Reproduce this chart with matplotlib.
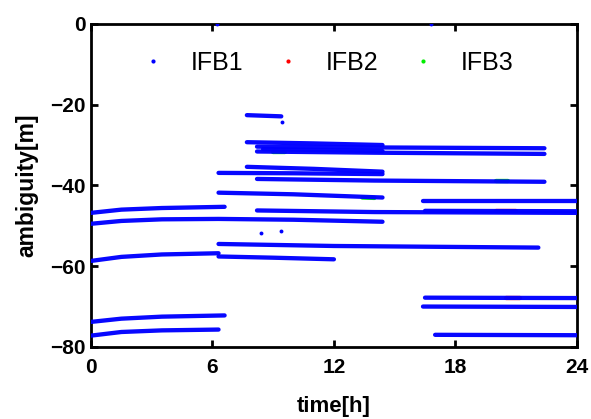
import matplotlib
matplotlib.use("Agg")
import matplotlib.pyplot as plt
from matplotlib.lines import Line2D

plt.rcParams['font.family'] = ['Liberation Sans', 'DejaVu Sans']

# IFB1 ambiguity arcs: each arc is a list of (time [h], ambiguity [m]) vertices
ifb1_arcs = [
    # first block, 0 h to ~6.6 h
    [(0.0, -46.8), (1.5, -46.0), (3.5, -45.6), (6.6, -45.3)],
    [(0.0, -49.5), (1.5, -48.8), (3.5, -48.4), (6.3, -48.3), (10.0, -48.5), (14.4, -49.0)],
    [(0.0, -58.7), (1.5, -57.7), (3.5, -57.1), (6.3, -56.8)],
    [(0.0, -73.8), (1.5, -73.0), (3.5, -72.5), (6.6, -72.2)],
    [(0.0, -77.2), (1.5, -76.3), (3.5, -75.9), (6.3, -75.7)],
    # arcs starting around 6.3 h
    [(6.3, -54.5), (12.0, -55.0), (22.1, -55.4)],
    [(6.3, -57.6), (9.0, -57.9), (12.0, -58.3)],
    [(6.3, -36.9), (10.0, -37.0), (14.4, -37.2)],
    [(6.3, -41.8), (10.0, -42.2), (14.4, -43.0)],
    # arcs starting around 7.7 - 8.5 h
    [(7.7, -22.6), (9.4, -22.9)],
    [(7.7, -29.3), (11.0, -29.6), (14.4, -30.0)],
    [(8.2, -30.4), (14.0, -30.6), (22.4, -30.8)],
    [(8.2, -31.6), (14.0, -31.9), (22.4, -32.2)],
    [(8.5, -31.0), (14.4, -31.5)],
    [(7.7, -35.4), (11.0, -35.9), (14.4, -36.6)],
    [(8.2, -38.4), (14.0, -38.8), (22.4, -39.1)],
    [(8.2, -46.2), (14.0, -46.6), (24.0, -46.8)],
    # arcs starting after 16 h
    [(16.4, -43.9), (24.0, -43.9)],
    [(16.5, -46.3), (24.0, -46.4)],
    [(16.5, -67.8), (24.0, -67.9)],
    [(16.4, -70.0), (24.0, -70.1)],
    [(17.0, -77.0), (24.0, -77.1)],
]

# isolated IFB1 epochs
ifb1_dots_t = [8.4, 9.4, 9.45, 6.2, 16.8]
ifb1_dots_v = [-51.7, -51.2, -24.4, 0.0, 0.0]

# IFB2 / IFB3 arcs (mostly lying under IFB1)
ifb2_arcs = [
    [(20.0, -46.4), (21.0, -46.4)],
    [(20.5, -67.9), (21.2, -67.9)],
]
ifb3_arcs = [
    [(13.4, -43.0), (14.0, -43.1)],
    [(20.0, -39.0), (20.6, -39.0)],
    [(9.0, -31.7), (9.6, -31.7)],
]

x_ticks = [0, 6, 12, 18, 24]
y_ticks = [0, -20, -40, -60, -80]

fig = plt.figure(figsize=(5.91, 4.19), dpi=100)
ax = fig.add_axes([0.154, 0.172, 0.822, 0.771])

lw = 3.1
for arcs, color, z in ((ifb2_arcs, '#ff0000', 2), (ifb3_arcs, '#00ee00', 2)):
    for arc in arcs:
        t, v = zip(*arc)
        ax.plot(t, v, color=color, lw=lw, solid_capstyle='round', zorder=z)

for arc in ifb1_arcs:
    t, v = zip(*arc)
    ax.plot(t, v, color='#0000ff', lw=lw, solid_capstyle='round', zorder=3, alpha=0.97)
ax.plot(ifb1_dots_t, ifb1_dots_v, 'o', color='#0000ff', ms=2.8, mec='none', zorder=3)

ax.set_xlim(0, 24)
ax.set_ylim(-80, 0)
ax.set_xticks(x_ticks)
ax.set_yticks(y_ticks)
ax.tick_params(direction='in', length=5, width=2, top=True, right=True,
               labelsize=15, pad=4)
ax.tick_params(axis='x', pad=8)
for lab in ax.get_xticklabels() + ax.get_yticklabels():
    lab.set_fontweight('bold')
for sp in ax.spines.values():
    sp.set_linewidth(2)

ax.set_xlabel('time[h]', fontsize=16, fontweight='bold', labelpad=14)
ax.set_ylabel('ambiguity[m]', fontsize=16.5, fontweight='bold', labelpad=8)

handles = [Line2D([], [], ls='none', marker='o', ms=3.0, color=c, mec='none')
           for c in ('#0000ff', '#ff0000', '#00ee00')]
ax.legend(handles, ['IFB1', 'IFB2', 'IFB3'], ncol=3, frameon=False,
          loc='center', bbox_to_anchor=(0.486, 0.879), fontsize=18,
          handletextpad=1.0, columnspacing=1.3, handlelength=1.0)

fig.savefig('out.png', dpi=100)
